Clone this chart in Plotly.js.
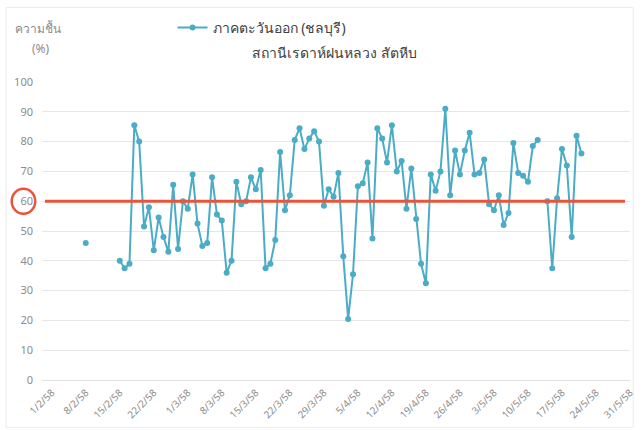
<!DOCTYPE html>
<html>
<head>
<meta charset="utf-8">
<script src="https://cdn.plot.ly/plotly-3.0.1.min.js"></script>
<style>html,body{margin:0;padding:0;background:#fff;}#chart{width:643px;height:430px;}</style>
</head>
<body>
<div id="chart"></div>
<script>
var seriesName = "ภาคตะวันออก (ชลบุรี)";
var chartTitle = "สถานีเรดาห์ฝนหลวง สัตหีบ";
var yTitleLines = ["ความชื้น", "(%)"];
var threshold = 60;

var dates = [
  "2015-02-08","2015-02-09","2015-02-10","2015-02-11","2015-02-12","2015-02-13","2015-02-14",
  "2015-02-15","2015-02-16","2015-02-17","2015-02-18","2015-02-19","2015-02-20","2015-02-21",
  "2015-02-22","2015-02-23","2015-02-24","2015-02-25","2015-02-26","2015-02-27","2015-02-28",
  "2015-03-01","2015-03-02","2015-03-03","2015-03-04","2015-03-05","2015-03-06","2015-03-07",
  "2015-03-08","2015-03-09","2015-03-10","2015-03-11","2015-03-12","2015-03-13","2015-03-14",
  "2015-03-15","2015-03-16","2015-03-17","2015-03-18","2015-03-19","2015-03-20","2015-03-21",
  "2015-03-22","2015-03-23","2015-03-24","2015-03-25","2015-03-26","2015-03-27","2015-03-28",
  "2015-03-29","2015-03-30","2015-03-31",
  "2015-04-01","2015-04-02","2015-04-03","2015-04-04","2015-04-05","2015-04-06","2015-04-07",
  "2015-04-08","2015-04-09","2015-04-10","2015-04-11","2015-04-12","2015-04-13","2015-04-14",
  "2015-04-15","2015-04-16","2015-04-17","2015-04-18","2015-04-19","2015-04-20","2015-04-21",
  "2015-04-22","2015-04-23","2015-04-24","2015-04-25","2015-04-26","2015-04-27","2015-04-28",
  "2015-04-29","2015-04-30",
  "2015-05-01","2015-05-02","2015-05-03","2015-05-04","2015-05-05","2015-05-06","2015-05-07",
  "2015-05-08","2015-05-09","2015-05-10","2015-05-11","2015-05-12","2015-05-13","2015-05-14",
  "2015-05-15","2015-05-16","2015-05-17","2015-05-18","2015-05-19","2015-05-20","2015-05-21"
];

var humidity = [
  46, null, null, null, null, null, null,
  40, 37.5, 39, 85.5, 80, 51.5, 58,
  43.5, 54.5, 48, 43, 65.5, 44, 60,
  57.5, 69, 52.5, 45, 46, 68, 55.5,
  53.5, 36, 40, 66.5, 59, 60, 68,
  64, 70.5, 37.5, 39, 47, 76.5, 57,
  62, 80.5, 84.5, 77.5, 81, 83.5, 80,
  58.5, 64, 61.5,
  69.5, 41.5, 20.5, 35.5, 65, 66, 73,
  47.5, 84.5, 81, 73, 85.5, 70, 73.5,
  57.5, 71, 54, 39, 32.5, 69, 63.5,
  70, 91, 62, 77, 69, 77, 83,
  69, 69.5,
  74, 59, 57, 62, 52, 56, 79.5,
  69.5, 68.5, 66.5, 78.5, 80.5, null, 60,
  37.5, 61, 77.5, 72, 48, 82, 76
];

var tickDates = ["2015-02-01","2015-02-08","2015-02-15","2015-02-22","2015-03-01","2015-03-08",
  "2015-03-15","2015-03-22","2015-03-29","2015-04-05","2015-04-12","2015-04-19","2015-04-26",
  "2015-05-03","2015-05-10","2015-05-17","2015-05-24","2015-05-31"];
var tickLabels = ["1/2/58","8/2/58","15/2/58","22/2/58","1/3/58","8/3/58","15/3/58","22/3/58",
  "29/3/58","5/4/58","12/4/58","19/4/58","26/4/58","3/5/58","10/5/58","17/5/58","24/5/58","31/5/58"];

var lineColor = "#4BACC6";
var redColor = "#E8553A";
var fontFam = "'Noto Sans', 'Open Sans', sans-serif";

var trace = {
  x: dates, y: humidity, type: "scatter", mode: "lines+markers",
  name: seriesName, connectgaps: false,
  line: {color: lineColor, width: 2},
  marker: {color: lineColor, size: 6}
};

var layout = {
  width: 643, height: 430,
  margin: {l: 42, r: 13, t: 80, b: 50},
  paper_bgcolor: "#fff", plot_bgcolor: "#fff",
  font: {family: fontFam, color: "#595959"},
  showlegend: true,
  legend: {orientation: "h", x: 0.222, xanchor: "left", y: 1.235, yanchor: "top",
    font: {size: 14, color: "#404040"}, itemwidth: 30, bgcolor: "rgba(0,0,0,0)"},
  xaxis: {
    type: "date", range: ["2015-01-30", "2015-05-31"],
    tickmode: "array", tickvals: tickDates, ticktext: tickLabels,
    tickangle: -45, tickfont: {size: 10, color: "#8c8c8c"},
    showgrid: false, zeroline: false, showline: false, ticks: "", ticklabelstandoff: 4
  },
  yaxis: {
    range: [0, 100], dtick: 10, tick0: 0,
    tickfont: {size: 11, color: "#8c8c8c"},
    gridcolor: "#e6e6e6", gridwidth: 1, zeroline: true, zerolinecolor: "#e0e0e0",
    showline: false, ticks: "", ticklabelstandoff: 8
  },
  shapes: [
    {type: "rect", xref: "paper", yref: "paper", x0: -0.061, x1: 1.0055, y0: -0.16, y1: 1.25,
      line: {color: "#ececec", width: 1}, layer: "below"},
    {type: "line", xref: "paper", yref: "y", x0: 0.005, x1: 0.9915, y0: threshold, y1: threshold,
      line: {color: redColor, width: 3}},
    {type: "circle", xref: "paper", yref: "y", x0: -0.0515, x1: -0.0115, y0: threshold - 4.2, y1: threshold + 4.2,
      line: {color: redColor, width: 2.5}}
  ],
  annotations: [
    {text: chartTitle, xref: "paper", yref: "paper", x: 0.497, y: 1.1, xanchor: "center", yanchor: "middle",
      showarrow: false, font: {size: 14, color: "#404040"}},
    {text: yTitleLines[0], xref: "paper", yref: "paper", x: -0.006, y: 1.18, xanchor: "center", yanchor: "middle",
      showarrow: false, font: {size: 12, color: "#8c8c8c"}},
    {text: yTitleLines[1], xref: "paper", yref: "paper", x: -0.001, y: 1.113, xanchor: "center", yanchor: "middle",
      showarrow: false, font: {size: 12, color: "#8c8c8c"}}
  ]
};

Plotly.newPlot("chart", [trace], layout, {displayModeBar: false, staticPlot: true});
</script>
</body>
</html>
